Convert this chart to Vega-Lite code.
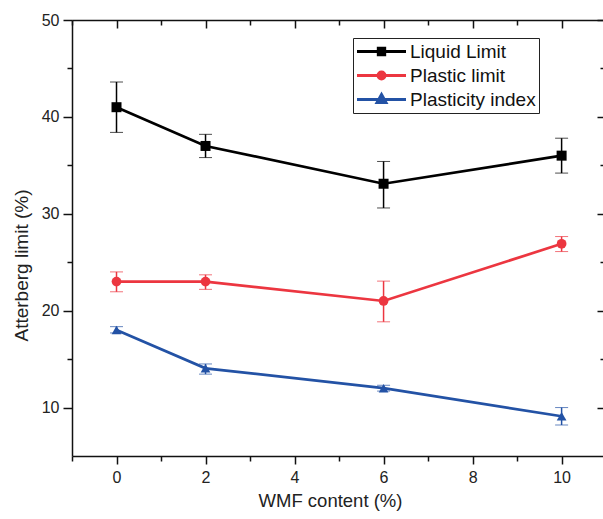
{
  "$schema": "https://vega.github.io/schema/vega-lite/v6.json",
  "width": 531,
  "height": 436,
  "autosize": "none",
  "padding": {"left": 72, "top": 20, "right": 0, "bottom": 63},
  "background": "white",
  "config": {"font": "Liberation Sans", "view": {"stroke": null}},
  "data": {
    "values": [
      {"wmf": 0, "series": "Liquid Limit", "value": 41, "lo": 38.4, "hi": 43.6},
      {"wmf": 2, "series": "Liquid Limit", "value": 37, "lo": 35.8, "hi": 38.2},
      {"wmf": 6, "series": "Liquid Limit", "value": 33.1, "lo": 30.6, "hi": 35.4},
      {"wmf": 10, "series": "Liquid Limit", "value": 36, "lo": 34.2, "hi": 37.8},
      {"wmf": 0, "series": "Plastic limit", "value": 23, "lo": 21.95, "hi": 24.0},
      {"wmf": 2, "series": "Plastic limit", "value": 23, "lo": 22.2, "hi": 23.7},
      {"wmf": 6, "series": "Plastic limit", "value": 21, "lo": 18.85, "hi": 23.05},
      {"wmf": 10, "series": "Plastic limit", "value": 26.9, "lo": 26.1, "hi": 27.65},
      {"wmf": 0, "series": "Plasticity index", "value": 18, "lo": 17.7, "hi": 18.35},
      {"wmf": 2, "series": "Plasticity index", "value": 14.05, "lo": 13.45, "hi": 14.5},
      {"wmf": 6, "series": "Plasticity index", "value": 12, "lo": 11.7, "hi": 12.3},
      {"wmf": 10, "series": "Plasticity index", "value": 9.1, "lo": 8.2, "hi": 10.0}
    ]
  },
  "layer": [
    {
      "mark": {"type": "errorbar", "ticks": {"size": 13, "strokeWidth": 1.5}, "rule": {"strokeWidth": 1.5}},
      "encoding": {
        "x": {
          "field": "wmf", "type": "quantitative",
          "scale": {"domain": [-1, 10.93], "nice": false, "zero": false},
          "axis": {
            "orient": "bottom", "title": "WMF content (%)",
            "values": [-1, 0, 1, 2, 3, 4, 5, 6, 7, 8, 9, 10],
            "labelExpr": "datum.value % 2 === 0 ? datum.label : ''",
            "grid": false, "domainColor": "#111", "domainWidth": 1.5,
            "tickColor": "#111", "tickWidth": 1.5,
            "tickSize": {"condition": {"test": "datum.value % 2 === 0", "value": 8}, "value": 5},
            "labelPadding": 5, "labelFontSize": 16, "labelColor": "#222", "labelFlush": false,
            "titleFontSize": 18.5, "titleFontWeight": "normal", "titleColor": "#222",
            "titleX": 258, "titleY": 35, "titleBaseline": "top", "titleAlign": "center"
          }
        },
        "y": {
          "field": "lo", "type": "quantitative",
          "scale": {"domain": [5, 50], "nice": false, "zero": false},
          "axis": {
            "orient": "left", "title": "Atterberg limit (%)",
            "values": [10, 15, 20, 25, 30, 35, 40, 45, 50],
            "labelExpr": "datum.value % 10 === 0 ? datum.label : ''",
            "grid": false, "domainColor": "#111", "domainWidth": 1.5,
            "tickColor": "#111", "tickWidth": 1.5,
            "tickSize": {"condition": {"test": "datum.value % 10 === 0", "value": 9}, "value": 5},
            "labelPadding": 4, "labelFontSize": 16, "labelColor": "#222", "labelFlush": false,
            "titleFontSize": 19, "titleFontWeight": "normal", "titleColor": "#222",
            "titleX": -41, "titleY": 245, "titleAlign": "center"
          }
        },
        "y2": {"field": "hi"},
        "color": {
          "field": "series", "type": "nominal",
          "scale": {"domain": ["Liquid Limit", "Plastic limit", "Plasticity index"], "range": ["#000000", "#ec3640", "#2352a5"]},
          "legend": null
        }
      }
    },
    {
      "mark": {"type": "line", "strokeWidth": 2.7},
      "encoding": {
        "x": {"field": "wmf", "type": "quantitative", "axis": null},
        "y": {"field": "value", "type": "quantitative", "axis": null},
        "color": {"field": "series", "type": "nominal", "legend": null}
      }
    },
    {
      "transform": [{"filter": "datum.series === 'Liquid Limit'"}],
      "mark": {"type": "point", "filled": true, "opacity": 1, "shape": "square", "size": 100},
      "encoding": {
        "x": {"field": "wmf", "type": "quantitative", "axis": null},
        "y": {"field": "value", "type": "quantitative", "axis": null},
        "color": {"field": "series", "type": "nominal", "legend": null}
      }
    },
    {
      "transform": [{"filter": "datum.series === 'Plastic limit'"}],
      "mark": {"type": "point", "filled": true, "opacity": 1, "shape": "circle", "size": 95},
      "encoding": {
        "x": {"field": "wmf", "type": "quantitative", "axis": null},
        "y": {"field": "value", "type": "quantitative", "axis": null},
        "color": {"field": "series", "type": "nominal", "legend": null}
      }
    },
    {
      "transform": [{"filter": "datum.series === 'Plasticity index'"}],
      "mark": {"type": "point", "filled": true, "opacity": 1, "shape": "triangle-up", "size": 95},
      "encoding": {
        "x": {"field": "wmf", "type": "quantitative", "axis": null},
        "y": {"field": "value", "type": "quantitative", "axis": null},
        "color": {"field": "series", "type": "nominal", "legend": null}
      }
    },
    {
      "mark": {"type": "point", "opacity": 0},
      "encoding": {
        "x": {"field": "wmf", "type": "quantitative", "axis": null},
        "y": {"field": "value", "type": "quantitative", "axis": null},
        "fill": {
          "field": "series", "type": "nominal",
          "scale": {"range": ["#000000", "#ec3640", "#2352a5"]},
          "legend": {
            "orient": "none", "legendX": 281, "legendY": 18, "title": null,
            "strokeColor": "#222", "padding": 2.5,
            "symbolSize": 2401, "symbolStrokeWidth": 3, "symbolOpacity": 1,
            "clipHeight": 22, "rowPadding": 2,
            "labelFont": "Liberation Sans", "labelFontSize": 19, "labelColor": "#111",
            "labelOffset": 2.5, "labelLimit": 300
          }
        },
        "stroke": {
          "field": "series", "type": "nominal",
          "scale": {"range": ["#000000", "#ec3640", "#2352a5"]},
          "legend": {
            "orient": "none", "legendX": 281, "legendY": 18, "title": null,
            "strokeColor": "#222", "padding": 2.5,
            "symbolSize": 2401, "symbolStrokeWidth": 3, "symbolOpacity": 1,
            "clipHeight": 22, "rowPadding": 2,
            "labelFont": "Liberation Sans", "labelFontSize": 19, "labelColor": "#111",
            "labelOffset": 2.5, "labelLimit": 300
          }
        },
        "shape": {
          "field": "series", "type": "nominal",
          "scale": {
            "range": [
              "M-1,0H1M-0.13,-0.13H0.13V0.13H-0.13Z",
              "M-1,0H1M0.14,0A0.14,0.14,0,1,1,-0.14,0A0.14,0.14,0,1,1,0.14,0Z",
              "M-1,0H1M0,-0.2L0.18,0.12L-0.18,0.12Z"
            ]
          },
          "legend": {
            "orient": "none", "legendX": 281, "legendY": 18, "title": null,
            "strokeColor": "#222", "padding": 2.5,
            "symbolSize": 2401, "symbolStrokeWidth": 3, "symbolOpacity": 1,
            "clipHeight": 22, "rowPadding": 2,
            "labelFont": "Liberation Sans", "labelFontSize": 19, "labelColor": "#111",
            "labelOffset": 2.5, "labelLimit": 300
          }
        }
      }
    },
    {
      "mark": {"type": "point", "opacity": 0},
      "encoding": {
        "x": {
          "field": "wmf", "type": "quantitative",
          "axis": {
            "orient": "top", "title": null, "labels": false,
            "values": [-1, 0, 1, 2, 3, 4, 5, 6, 7, 8, 9, 10],
            "grid": false, "domainColor": "#111", "domainWidth": 1.5,
            "tickColor": "#111", "tickWidth": 1.5,
            "tickSize": {"condition": {"test": "datum.value % 2 === 0", "value": -8}, "value": -5}
          }
        },
        "y": {
          "field": "value", "type": "quantitative",
          "axis": {
            "orient": "right", "title": null, "labels": false, "domain": false,
            "values": [10, 15, 20, 25, 30, 35, 40, 45, 50],
            "grid": false, "tickColor": "#111", "tickWidth": 1.5,
            "tickSize": {"condition": {"test": "datum.value % 10 === 0", "value": -6}, "value": -3}
          }
        }
      }
    }
  ],
  "resolve": {
    "axis": {"x": "independent", "y": "independent"}
  }
}
